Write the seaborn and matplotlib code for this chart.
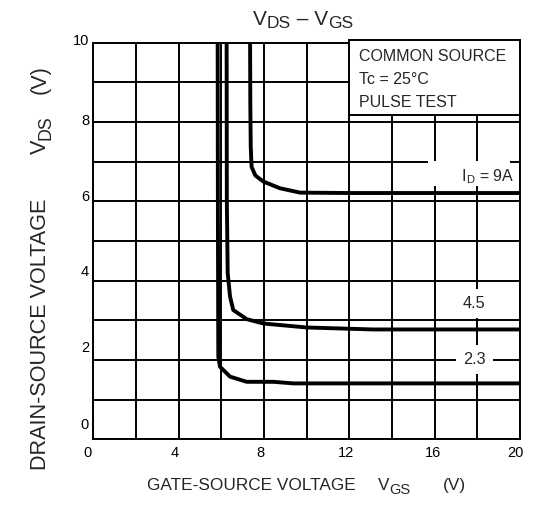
import numpy as np
import pandas as pd
import matplotlib
matplotlib.use('Agg')
import matplotlib.pyplot as plt
import seaborn as sns
from matplotlib.ticker import MultipleLocator, FixedLocator
from matplotlib.transforms import ScaledTranslation, IdentityTransform

sns.set_style('white')
plt.rcParams['font.family'] = ['Liberation Sans', 'DejaVu Sans']

# curve data (VGS, VDS)
vgs_9a = [7.35, 7.36, 7.38, 7.42, 7.6, 7.97, 8.75, 9.69, 12.0, 16.0, 20.0]
vds_9a = [10.0, 8.5, 7.38, 6.87, 6.65, 6.5, 6.33, 6.22, 6.21, 6.21, 6.21]

vgs_45a = [6.25, 6.26, 6.3, 6.41, 6.56, 7.19, 7.97, 10.0, 13.1, 16.0, 20.0]
vds_45a = [10.0, 6.0, 4.19, 3.6, 3.26, 3.03, 2.92, 2.82, 2.77, 2.77, 2.77]

vgs_23a = [5.83, 5.84, 5.86, 5.94, 6.41, 7.19, 8.44, 9.38, 14.0, 20.0]
vds_23a = [10.0, 6.0, 2.08, 1.83, 1.58, 1.45, 1.45, 1.41, 1.41, 1.41]

x_ticks = [0, 4, 8, 12, 16, 20]
y_ticks = [0, 2, 4, 6, 8, 10]

df = pd.concat([
    pd.DataFrame({'VGS': vgs_9a, 'VDS': vds_9a, 'ID': '9A'}),
    pd.DataFrame({'VGS': vgs_45a, 'VDS': vds_45a, 'ID': '4.5'}),
    pd.DataFrame({'VGS': vgs_23a, 'VDS': vds_23a, 'ID': '2.3'}),
], ignore_index=True)

fig = plt.figure(figsize=(5.33, 5.26), dpi=100)
ax = fig.add_axes([0.175, 0.1648, 0.8006, 0.754])

sns.lineplot(data=df, x='VGS', y='VDS', units='ID', estimator=None, sort=False,
             color='black', linewidth=2.8, ax=ax, legend=False, zorder=3)

ax.set_xlim(0, 20)
ax.set_ylim(0, 10)
ax.xaxis.set_major_locator(FixedLocator(x_ticks))
ax.xaxis.set_minor_locator(MultipleLocator(2))
ax.yaxis.set_major_locator(FixedLocator(y_ticks))
ax.yaxis.set_minor_locator(MultipleLocator(1))
ax.grid(True, which='both', color='black', linewidth=1.4)
ax.set_axisbelow(True)
ax.tick_params(which='both', length=0, labelsize=10.5, colors='black')
ax.tick_params(axis='x', pad=5)
ax.tick_params(axis='y', pad=3)
for s in ax.spines.values():
    s.set_color('black')
    s.set_linewidth(1.4)

# the scanned sheet has its tick labels a little off the grid lines
x_shift = [-6, -4, -4, -3, -2, -5]
y_shift = [16, 13, 10, 6, 3, 3]
for tick, dx in zip(ax.xaxis.get_major_ticks(), x_shift):
    tick.label1.set_transform(tick.label1.get_transform()
                              + ScaledTranslation(dx / 100, 0, fig.dpi_scale_trans))
for tick, dy in zip(ax.yaxis.get_major_ticks(), y_shift):
    tick.label1.set_transform(tick.label1.get_transform()
                              + ScaledTranslation(0, dy / 100, fig.dpi_scale_trans))

# white label boxes that break the grid
ax.add_patch(plt.Rectangle((15.69, 6.39), 3.85, 0.63, facecolor='white',
                           edgecolor='none', zorder=2))
ax.text(17.47, 6.62, 'I', ha='right', va='center', fontsize=11.5, zorder=4)
ax.text(17.47, 6.62, '$\\mathregular{_{D}}$ = 9A', ha='left', va='center',
        fontsize=11.5, zorder=4)
for lab, x, y in [('4.5', 17.86, 3.43), ('2.3', 17.86, 2.02)]:
    ax.text(x, y, lab, ha='center', va='center', fontsize=11.7, zorder=4,
            bbox=dict(facecolor='white', edgecolor='none', pad=5))

# condition box
ax.add_patch(plt.Rectangle((12.0, 8.18), 8.0, 1.88, facecolor='white',
                           edgecolor='black', linewidth=1.4, zorder=4,
                           clip_on=False))
cond = ['COMMON SOURCE', 'Tc = 25°C', 'PULSE TEST']
cond_y = [9.66, 9.06, 8.48]
for t, y in zip(cond, cond_y):
    ax.text(12.46, y, t, ha='left', va='center', fontsize=11.5, zorder=5)


def chain(x, y, pieces, rotation=0):
    # pieces: (text, fontsize, shift down px, start px or None to follow on)
    renderer = fig.canvas.get_renderer()
    cx, cy = x, y
    for txt, fs, shift, start in pieces:
        if rotation == 0:
            if start is not None:
                cx = start
            t = fig.text(cx, cy - shift, txt, fontsize=fs, ha='left', va='baseline',
                         transform=IdentityTransform())
            cx = t.get_window_extent(renderer).x1
        else:
            if start is not None:
                cy = start
            t = fig.text(cx + shift, cy, txt, fontsize=fs, ha='left', va='baseline',
                         rotation=90, rotation_mode='anchor',
                         transform=IdentityTransform())
            cy = t.get_window_extent(renderer).y1


H = 526
chain(253, H - 25, [('V', 15, 0, None), ('DS', 12.5, 3, None), (' – V', 15, 0, None),
                    ('GS', 12.5, 3, None)])
chain(147, H - 490, [('GATE-SOURCE VOLTAGE', 12.4, 0, None), ('V', 12.4, 0, 378),
                     ('GS', 10.5, 4, None), ('(V)', 12.4, 0, 443)])
chain(46, 56, [('DRAIN-SOURCE VOLTAGE', 15.6, 0, None), ('V', 15.6, 0, H - 154),
               ('DS', 12.8, 4, None), ('(V)', 15.6, 0, H - 94)], rotation=90)

ax.set_xlabel('')
ax.set_ylabel('')
fig.savefig('out.png', dpi=100, facecolor='white')
